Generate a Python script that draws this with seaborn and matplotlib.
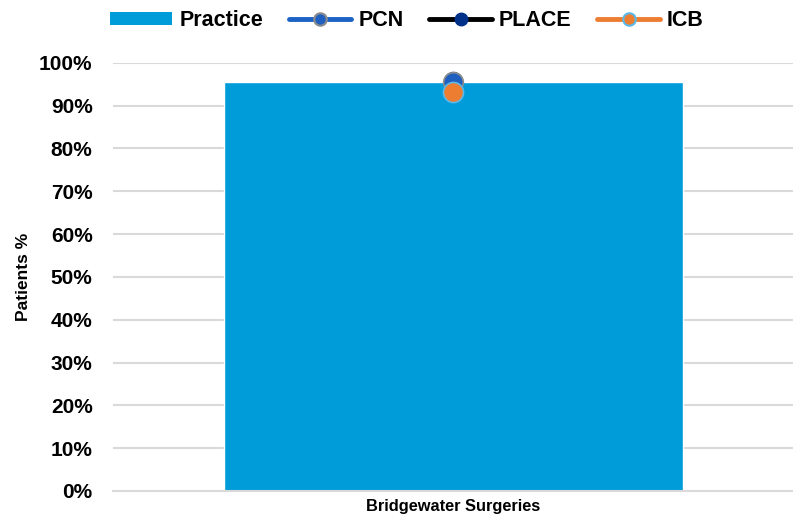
import pandas as pd
import numpy as np
import matplotlib.pyplot as plt
from matplotlib.patches import Patch
from matplotlib.lines import Line2D
import seaborn as sns

practices = ['Bridgewater Surgeries']
practice_pct = [95.5]
pcn_pct = [95.6]
place_pct = [95.7]
icb_pct = [93.2]

sns.set_theme(style='white')
plt.rcParams['font.family'] = ['Liberation Sans', 'DejaVu Sans']
plt.rcParams['font.weight'] = 'bold'
plt.rcParams['text.color'] = 'black'
plt.rcParams['xtick.color'] = 'black'
plt.rcParams['ytick.color'] = 'black'
plt.rcParams['axes.labelcolor'] = 'black'

df = pd.DataFrame({'Practice': practices, 'pct': practice_pct,
                   'PCN': pcn_pct, 'PLACE': place_pct, 'ICB': icb_pct})

fig = plt.figure(figsize=(7.93, 5.19), dpi=100)
ax = fig.add_axes([0.143, 0.054, 0.857, 0.825])

sns.barplot(data=df, x='Practice', y='pct', color='#009CDA', width=0.675,
            saturation=1, ax=ax, zorder=2)

# comparator markers (PLACE underneath PCN, ICB on top)
sns.scatterplot(data=df, x='Practice', y='PLACE', color='#003087', edgecolor='#003087',
                s=170, linewidth=1, ax=ax, zorder=3)
sns.scatterplot(data=df, x='Practice', y='PCN', color='#1F5FBF', edgecolor='#8C8C8C',
                s=200, linewidth=1.2, ax=ax, zorder=4)
sns.scatterplot(data=df, x='Practice', y='ICB', color='#ED7D31', edgecolor='#5BB8E8',
                s=210, linewidth=1.2, ax=ax, zorder=5)

ax.set_ylim(0, 100)
ax.set_xlim(-0.5, 0.5)
ax.set_yticks(np.arange(0, 101, 10))
ax.set_yticklabels([f'{v}%' for v in range(0, 101, 10)], fontsize=15, fontweight='bold')
ax.tick_params(axis='x', labelsize=11.8, length=0, pad=6)
ax.tick_params(axis='y', length=0, pad=15)
for lab in ax.get_xticklabels():
    lab.set_fontweight('bold')
ax.yaxis.grid(True, color='#D9D9D9', linewidth=1.5, zorder=0)
ax.set_axisbelow(True)
ax.set_xlabel('')
ax.set_ylabel('Patients %', fontsize=12.5, fontweight='bold', labelpad=6)
for s in ['left', 'right', 'top']:
    ax.spines[s].set_visible(False)
ax.spines['bottom'].set_color('#D9D9D9')
ax.spines['bottom'].set_linewidth(1.5)

handles = [
    Patch(facecolor='#009CDA', edgecolor='none'),
    Line2D([0], [0], color='#1A62C4', lw=3.5, marker='o', markersize=9,
           markerfacecolor='#1F5FBF', markeredgecolor='#8C8C8C', markeredgewidth=1.5),
    Line2D([0], [0], color='black', lw=3.5, marker='o', markersize=9,
           markerfacecolor='#003087', markeredgecolor='#003087'),
    Line2D([0], [0], color='#ED7D31', lw=3.5, marker='o', markersize=9,
           markerfacecolor='#ED7D31', markeredgecolor='#5BB8E8', markeredgewidth=1.5),
]
fig.legend(handles, ['Practice', 'PCN', 'PLACE', 'ICB'], loc='upper center',
           bbox_to_anchor=(0.513, 1.018), ncol=4, frameon=False, fontsize=15.5,
           handlelength=2.9, handleheight=0.6, columnspacing=1.2, handletextpad=0.33)

fig.savefig('out.png', dpi=100)
